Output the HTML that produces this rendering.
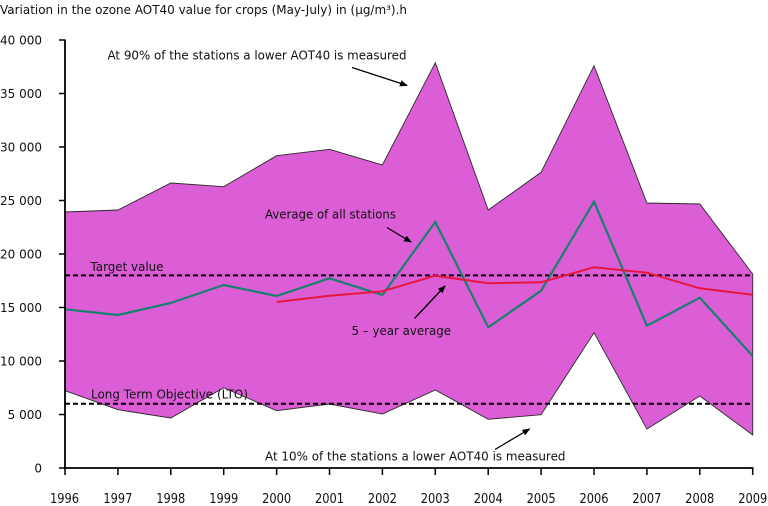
<!DOCTYPE html>
<html><head><meta charset="utf-8"><style>
html,body{margin:0;padding:0;background:#fff;}
svg{display:block;}
text{font-family:"DejaVu Sans","Liberation Sans",sans-serif;font-size:12px;fill:#111;}
.yr{font-size:13.5px;}
</style></head><body>
<svg width="768" height="506" viewBox="0 0 768 506" xmlns="http://www.w3.org/2000/svg">
<defs>
<marker id="ah" markerWidth="8" markerHeight="8" refX="7" refY="4" orient="auto" markerUnits="userSpaceOnUse">
<path d="M0,0.8 L8,4 L0,7.2 Z" fill="#000"/>
</marker>
</defs>
<text x="0" y="14" textLength="407" lengthAdjust="spacingAndGlyphs">Variation in the ozone AOT40 value for crops (May-July) in (µg/m³).h</text>

<!-- band -->
<polygon fill="#DC5ED7" stroke="#2a2a2a" stroke-width="0.9" points="
65,212 117.9,210 170.8,183 223.7,186.7 276.6,155.7 329.5,149.3 382.4,165 435.3,62.7 488.2,210 541.1,172.3 594,65.7 646.9,203 699.8,204 752.7,274
752.7,435 699.8,396 646.9,429 594,332.7 541.1,414.7 488.2,419.3 435.3,390 382.4,414 329.5,404 276.6,410.7 223.7,387.7 170.8,418 117.9,409.7 65,390.7"/>

<!-- dashed lines -->
<line x1="65" y1="275.4" x2="753" y2="275.4" stroke="#000" stroke-width="2" stroke-dasharray="5,3"/>
<line x1="65" y1="403.8" x2="753" y2="403.8" stroke="#000" stroke-width="2" stroke-dasharray="5,3"/>

<!-- average -->
<polyline fill="none" stroke="#17806E" stroke-width="2.2" stroke-linejoin="miter" points="65,309.3 117.9,315 170.8,303 223.7,285 276.6,296 329.5,278.3 382.4,295 435.3,222 488.2,327.3 541.1,290.7 594,201.7 646.9,325.7 699.8,297.7 752.7,356"/>
<!-- 5-year -->
<polyline fill="none" stroke="#E8163C" stroke-width="2" points="276.6,302 329.5,295.7 382.4,291.3 435.3,275.7 488.2,283.3 541.1,282.3 594,267.3 646.9,272.7 699.8,288.3 752.7,294.7"/>

<!-- axes -->
<line x1="65" y1="39.5" x2="65" y2="469" stroke="#000" stroke-width="1.8"/>
<line x1="64" y1="468" x2="753.5" y2="468" stroke="#000" stroke-width="1.8"/>
<g stroke="#000" stroke-width="1.5">
<line x1="59" y1="40" x2="65" y2="40"/>
<line x1="59" y1="93.5" x2="65" y2="93.5"/>
<line x1="59" y1="147" x2="65" y2="147"/>
<line x1="59" y1="200.5" x2="65" y2="200.5"/>
<line x1="59" y1="254" x2="65" y2="254"/>
<line x1="59" y1="307.5" x2="65" y2="307.5"/>
<line x1="59" y1="361" x2="65" y2="361"/>
<line x1="59" y1="414.5" x2="65" y2="414.5"/>
<line x1="59" y1="468" x2="65" y2="468"/>
<line x1="65" y1="468" x2="65" y2="475"/>
<line x1="117.9" y1="468" x2="117.9" y2="475"/>
<line x1="170.8" y1="468" x2="170.8" y2="475"/>
<line x1="223.7" y1="468" x2="223.7" y2="475"/>
<line x1="276.6" y1="468" x2="276.6" y2="475"/>
<line x1="329.5" y1="468" x2="329.5" y2="475"/>
<line x1="382.4" y1="468" x2="382.4" y2="475"/>
<line x1="435.3" y1="468" x2="435.3" y2="475"/>
<line x1="488.2" y1="468" x2="488.2" y2="475"/>
<line x1="541.1" y1="468" x2="541.1" y2="475"/>
<line x1="594" y1="468" x2="594" y2="475"/>
<line x1="646.9" y1="468" x2="646.9" y2="475"/>
<line x1="699.8" y1="468" x2="699.8" y2="475"/>
<line x1="752.7" y1="468" x2="752.7" y2="475"/>
</g>

<!-- y labels -->
<g text-anchor="end">
<text x="42" y="44.5">40 000</text>
<text x="42" y="98">35 000</text>
<text x="42" y="151.5">30 000</text>
<text x="42" y="205">25 000</text>
<text x="42" y="258.5">20 000</text>
<text x="42" y="312">15 000</text>
<text x="42" y="365.5">10 000</text>
<text x="42" y="419">5 000</text>
<text x="42" y="472.5">0</text>
</g>

<!-- x labels -->
<g text-anchor="middle" class="yr">
<text class="yr" x="64.5" y="503" textLength="29" lengthAdjust="spacingAndGlyphs">1996</text>
<text class="yr" x="117.9" y="503" textLength="29" lengthAdjust="spacingAndGlyphs">1997</text>
<text class="yr" x="170.8" y="503" textLength="29" lengthAdjust="spacingAndGlyphs">1998</text>
<text class="yr" x="223.7" y="503" textLength="29" lengthAdjust="spacingAndGlyphs">1999</text>
<text class="yr" x="276.6" y="503" textLength="29" lengthAdjust="spacingAndGlyphs">2000</text>
<text class="yr" x="329.5" y="503" textLength="29" lengthAdjust="spacingAndGlyphs">2001</text>
<text class="yr" x="382.4" y="503" textLength="29" lengthAdjust="spacingAndGlyphs">2002</text>
<text class="yr" x="435.3" y="503" textLength="29" lengthAdjust="spacingAndGlyphs">2003</text>
<text class="yr" x="488.2" y="503" textLength="29" lengthAdjust="spacingAndGlyphs">2004</text>
<text class="yr" x="541.1" y="503" textLength="29" lengthAdjust="spacingAndGlyphs">2005</text>
<text class="yr" x="594" y="503" textLength="29" lengthAdjust="spacingAndGlyphs">2006</text>
<text class="yr" x="646.9" y="503" textLength="29" lengthAdjust="spacingAndGlyphs">2007</text>
<text class="yr" x="699.8" y="503" textLength="29" lengthAdjust="spacingAndGlyphs">2008</text>
<text class="yr" x="752.7" y="503" textLength="29" lengthAdjust="spacingAndGlyphs">2009</text>
</g>

<!-- annotations -->
<text x="107.5" y="59.5" textLength="299" lengthAdjust="spacingAndGlyphs">At 90% of the stations a lower AOT40 is measured</text>
<text x="265" y="218.5" textLength="131" lengthAdjust="spacingAndGlyphs">Average of all stations</text>
<text x="90.5" y="271" textLength="73" lengthAdjust="spacingAndGlyphs">Target value</text>
<text x="351.5" y="335" textLength="99.5" lengthAdjust="spacingAndGlyphs">5 – year average</text>
<text x="91" y="398.5" textLength="157" lengthAdjust="spacingAndGlyphs">Long Term Objective (LTO)</text>
<text x="265" y="460.5" textLength="300.5" lengthAdjust="spacingAndGlyphs">At 10% of the stations a lower AOT40 is measured</text>

<g stroke="#000" stroke-width="1.3" fill="none" marker-end="url(#ah)">
<line x1="352" y1="67.5" x2="407" y2="85.5"/>
<line x1="387" y1="227.5" x2="411" y2="242"/>
<line x1="414.5" y1="318.5" x2="445" y2="286"/>
<line x1="495" y1="449.5" x2="529.5" y2="429"/>
</g>
</svg>
</body></html>
